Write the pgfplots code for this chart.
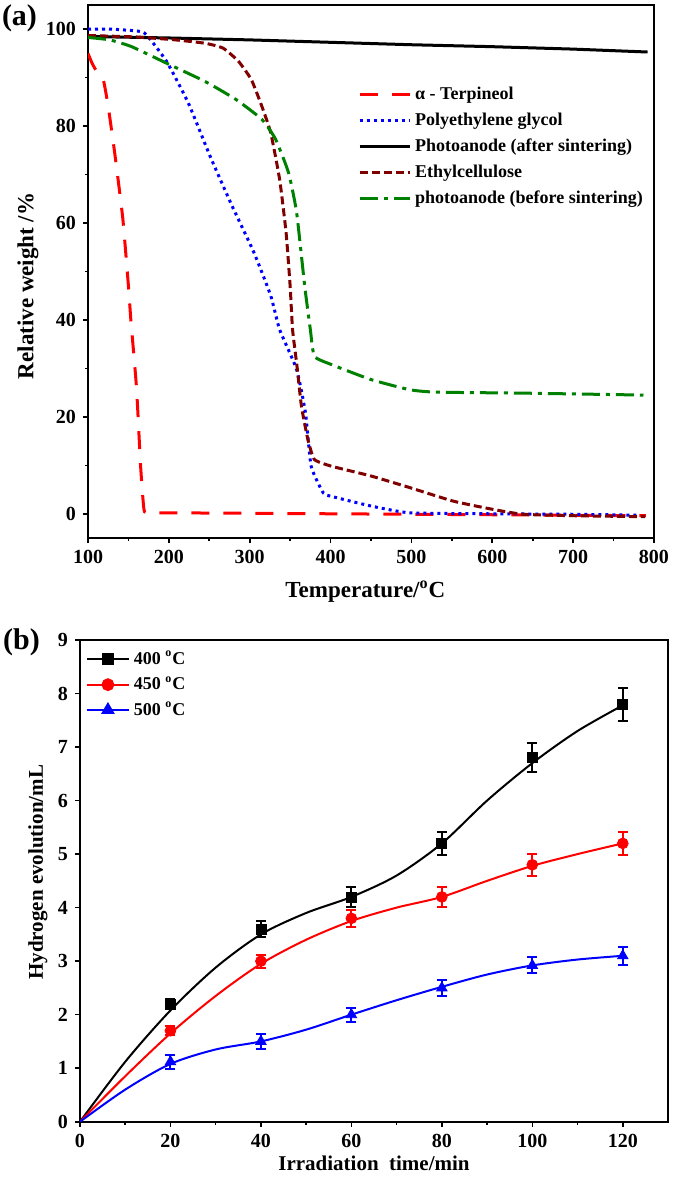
\documentclass[border=0pt]{standalone}
\usepackage{fontspec}
\setmainfont{Liberation Serif}
\usepackage{pgfplots}
\pgfplotsset{compat=1.18}
\definecolor{ecbrown}{RGB}{128,0,0}
\definecolor{pgreen}{RGB}{0,128,0}
\begin{document}
\begin{tikzpicture}
\useasboundingbox (0,0) rectangle (342.5pt,-589.5pt);
\pgfplotsset{
 common/.style={
   scale only axis,
   anchor=south west,
   /pgf/number format/assume math mode=true,
   tick align=outside,
   xtick pos=left, ytick pos=left,
   major tick length=2.5pt, minor tick length=1.5pt,
   axis line style={line width=1pt},
   tick style={line width=0.8pt, black},
   tick label style={font=\fontsize{10}{12}\selectfont\bfseries},
   label style={font=\fontsize{11.5}{13}\selectfont\bfseries},
   legend cell align=left,
 }
}
\begin{axis}[common, at={(44pt,-269pt)}, width=283pt, height=266.5pt,
 xmin=100, xmax=800, ymin=-5, ymax=105,
 xtick={100,200,...,800}, minor x tick num=1,
 ytick={0,20,...,100}, minor y tick num=1,
 xlabel={Temperature/\textsuperscript{o}C},
 ylabel={Relative weight /\%},
 xlabel style={at={(axis description cs:0.49,-0.101)}, anchor=center},
 ylabel style={at={(axis description cs:-0.106,0.473)}, anchor=center},
 legend style={at={(axis description cs:0.473,0.858)}, anchor=north west, draw=none, fill=none,
   font=\fontsize{9}{11}\selectfont\bfseries, row sep=1.2pt, inner sep=1pt},
 legend image code/.code={\draw[#1] (0pt,0pt) -- (25pt,0pt);},
]
\addplot[red, line width=1.5pt, dash pattern=on 9pt off 7pt, smooth, tension=0.3] coordinates {
 (100,95) (105,93) (110,91.5) (119,89.5) (125,84) (133,74.5) (143,61) (150,47) (153,40) (160,26) (165,10) (168,3) (170,0.4) (180,0.2) (200,0.2) (400,0) (600,-0.2) (790,-0.4)};
\addlegendentry{α - Terpineol}
\addplot[blue, line width=1.5pt, dash pattern=on 1.5pt off 2pt, smooth, tension=0.3] coordinates {
 (100,100) (130,100) (148,99.8) (170,99.2) (197,93.4) (224,84.8) (251,73.8) (278,63.6) (305,54) (326,45) (337,38) (358,29.8) (369,20.8) (376,9.8) (391,4.3) (401,3.6) (450,1.6) (498,0.2) (600,0) (700,-0.1) (782,-0.3)};
\addlegendentry{Polyethylene glycol}
\addplot[black, line width=1.5pt] coordinates {
 (100,98.5) (200,98.2) (300,97.8) (400,97.3) (500,96.8) (600,96.4) (700,95.9) (792,95.3)};
\addlegendentry{Photoanode (after sintering)}
\addplot[ecbrown, line width=1.5pt, dash pattern=on 4pt off 2pt, smooth, tension=0.3] coordinates {
 (100,98.7) (160,98.4) (208,97.8) (245,97.1) (267,96.1) (286,93.4) (302,89.6) (315,84.1) (326,78.6) (337,69) (345,58) (350,47) (353,38) (358.5,30.4) (364,22.2) (372,15.3) (380,11.2) (401.5,9.8) (450,7.8) (498,5.4) (552,2.6) (601,0.9) (638,-0.1) (700,-0.4) (789,-0.6)};
\addlegendentry{Ethylcellulose}
\addplot[pgreen, line width=1.5pt, dash pattern=on 9pt off 3pt on 2pt off 3pt, smooth, tension=0.3] coordinates {
 (100,98.3) (127,97.8) (154,96.4) (197,93) (245,89.2) (283,85.5) (315,81.4) (332,77.3) (348,70.4) (358,62.2) (368,47) (375,38) (380,32.5) (401,30.8) (450,27.7) (498,25.6) (531,25.1) (638,24.9) (787,24.5)};
\addlegendentry{photoanode (before sintering)}
\end{axis}

\begin{axis}[common, at={(40pt,-560.85pt)}, width=294pt, height=240.85pt,
 xmin=0, xmax=130, ymin=0, ymax=9,
 xtick={0,20,...,120}, minor x tick num=1,
 ytick={0,1,...,9},
 xlabel={Irradiation\ \ time/min},
 ylabel={Hydrogen evolution/mL},
 label style={font=\fontsize{10.5}{12}\selectfont\bfseries},
 xlabel style={at={(axis description cs:0.5,-0.086)}, anchor=center},
 ylabel style={at={(axis description cs:-0.0714,0.518)}, anchor=center},
 legend style={at={(axis description cs:0.006,0.99)}, anchor=north west, draw=none, fill=none,
   font=\fontsize{9}{11}\selectfont\bfseries, row sep=0.5pt, inner sep=1pt},
 legend image code/.code={\draw[mark repeat=2,mark phase=2,#1] plot coordinates {(0pt,0pt) (10.5pt,0pt) (21pt,0pt)};},
 error bars/error bar style={line width=1pt},
 error bars/error mark options={rotate=90, mark size=2.5pt, line width=1pt},
]
\addlegendimage{black, line width=1pt, mark=square*, mark size=2.5pt}
\addlegendentry{400 \textsuperscript{o}C}
\addlegendimage{red, line width=1pt, mark=*, mark size=2.7pt}
\addlegendentry{450 \textsuperscript{o}C}
\addlegendimage{blue, line width=1pt, mark=triangle*, mark size=3pt}
\addlegendentry{500 \textsuperscript{o}C}
% fitted curves
\addplot[black, line width=1pt, smooth, forget plot] coordinates {
 (0,0) (10,1.12) (20,2.08) (30,2.88) (40,3.5) (50,3.9) (60,4.2) (70,4.6) (80,5.2) (90,6.0) (100,6.7) (110,7.3) (120,7.78)};
\addplot[red, line width=1pt, smooth, forget plot] coordinates {
 (0,0) (10,0.85) (20,1.65) (30,2.35) (40,2.95) (50,3.4) (60,3.75) (70,4.0) (80,4.2) (90,4.5) (100,4.78) (110,5.0) (120,5.2)};
\addplot[blue, line width=1pt, smooth, forget plot] coordinates {
 (0,0) (10,0.6) (20,1.08) (30,1.35) (40,1.5) (50,1.72) (60,2.0) (70,2.27) (80,2.52) (90,2.75) (100,2.92) (110,3.03) (120,3.1)};
% data with error bars
\addplot[black, only marks, mark=square*, mark size=2.5pt, forget plot,
 error bars/.cd, y dir=both, y explicit] coordinates {
 (20,2.2) +- (0,0.1) (40,3.6) +- (0,0.15) (60,4.2) +- (0,0.18) (80,5.2) +- (0,0.22) (100,6.8) +- (0,0.27) (120,7.8) +- (0,0.31)};
\addplot[red, only marks, mark=*, mark size=2.7pt, forget plot,
 error bars/.cd, y dir=both, y explicit] coordinates {
 (20,1.7) +- (0,0.08) (40,3.0) +- (0,0.12) (60,3.8) +- (0,0.16) (80,4.2) +- (0,0.18) (100,4.8) +- (0,0.2) (120,5.2) +- (0,0.22)};
\addplot[blue, only marks, mark=triangle*, mark size=3pt, forget plot,
 error bars/.cd, y dir=both, y explicit] coordinates {
 (20,1.12) +- (0,0.13) (40,1.5) +- (0,0.14) (60,2.0) +- (0,0.13) (80,2.5) +- (0,0.15) (100,2.92) +- (0,0.15) (120,3.1) +- (0,0.17)};
\end{axis}

\node[font=\fontsize{15}{15}\selectfont\bfseries] at (9.75pt,-9pt) {(a)};
\node[font=\fontsize{15}{15}\selectfont\bfseries] at (10.75pt,-321pt) {(b)};
\end{tikzpicture}
\end{document}
